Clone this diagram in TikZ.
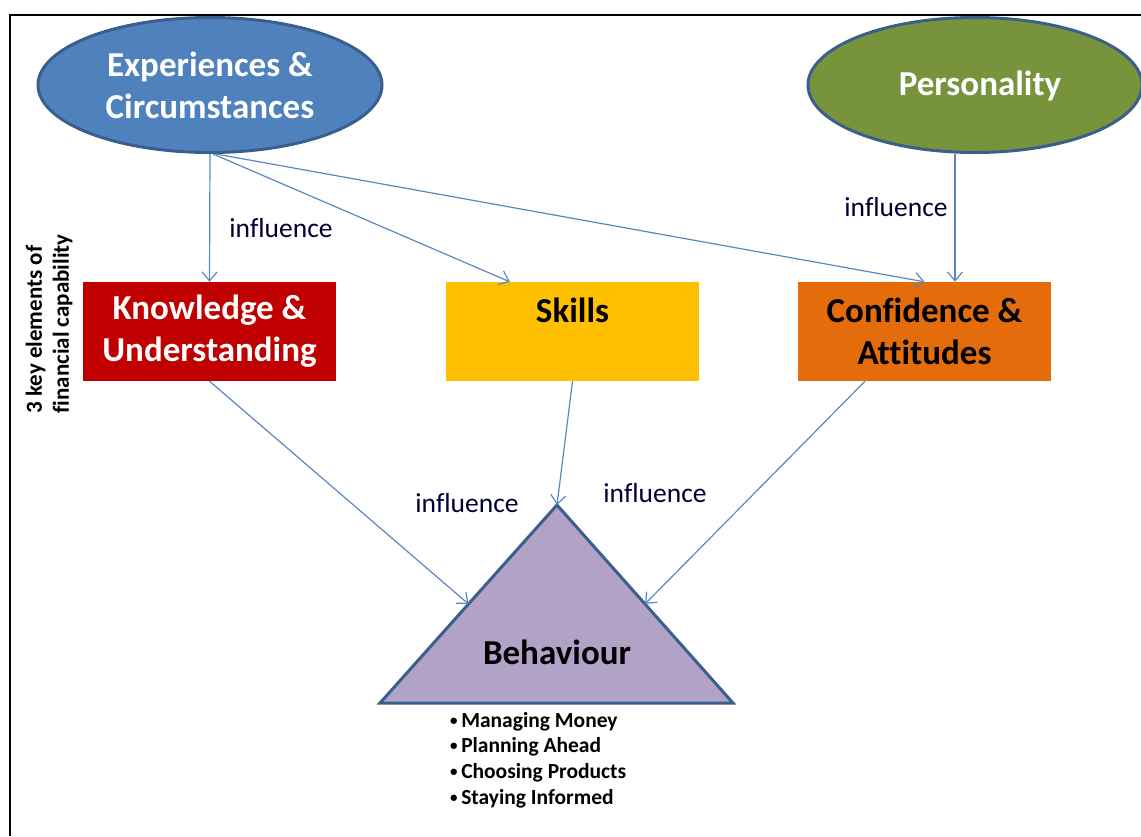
\documentclass[tikz,border=0pt]{standalone}
\usepackage{fontspec}
\setmainfont{Carlito}[Ligatures=NoCommon]
\usetikzlibrary{shapes.geometric,arrows.meta,calc}
\definecolor{ecblue}{HTML}{4F81BD}
\definecolor{edgeblue}{HTML}{3A5F8C}
\definecolor{persgreen}{HTML}{77933C}
\definecolor{kured}{HTML}{C00000}
\definecolor{skyellow}{HTML}{FFC000}
\definecolor{caorange}{HTML}{E46C0A}
\definecolor{behlilac}{HTML}{B3A2C7}
\definecolor{arrowblue}{HTML}{5B87C0}
\newcommand{\smallbullet}{\raisebox{2pt}{\fontsize{15}{15}\selectfont•}\,}
\begin{document}
\begin{tikzpicture}[x=1pt,y=-1pt,
  oval/.style={ellipse, draw=edgeblue, line width=3pt, inner sep=0pt,
    minimum height=135pt, text=white,
    font=\fontsize{35}{42}\selectfont\bfseries, align=center},
  elem/.style={rectangle, minimum width=253pt, minimum height=99pt, inner sep=0pt,
    font=\fontsize{35}{42}\selectfont\bfseries, align=center},
  infl/.style={draw=arrowblue, line width=1.2pt, -{Straight Barb[length=9pt,width=15pt]}},
  word/.style={font=\fontsize{27.5}{32}\selectfont, text=black!80!blue, inner sep=0pt},
]
\useasboundingbox (0,0) rectangle (1141,836);

% outer frame
\draw[line width=2pt] (10,836) -- (10,15) -- (1141,15);

% sources
\node[oval, fill=ecblue, minimum width=344pt] (exp) at (210,85) {Experiences \&\\Circumstances};
\node[oval, fill=persgreen, minimum width=334pt] (pers) at (975,85) {};
\node[text=white, font=\fontsize{35}{42}\selectfont\bfseries, inner sep=0pt] (perst) at (980,86) {Personality};

% three elements
\node[elem, fill=kured, text=white] (know) at (209.5,331.5) {Knowledge \&\\Understanding};
\node[elem, fill=skyellow, text=black] (skill) at (572.5,331.5) {Skills\\\mbox{}};
\node[elem, fill=caorange, text=black] (conf) at (924.5,331.5) {Confidence \&\\Attitudes};

% side caption
\node[rotate=90, align=left, inner sep=0pt, font=\fontsize{23}{27}\selectfont\bfseries]
  (cap) at (49,324) {3 key elements of\\financial capability};

% behaviour triangle
\coordinate (tA) at (557,505);
\coordinate (tL) at (380,703);
\coordinate (tR) at (733,703);
\draw[fill=behlilac, draw=edgeblue, line width=3pt, line join=miter] (tA) -- (tL) -- (tR) -- cycle;
\node[font=\fontsize{35}{40}\selectfont\bfseries, inner sep=0pt] (beh) at (557,652) {Behaviour};

\node[anchor=north west, align=left, inner sep=0pt,
  font=\fontsize{21.5}{25.7}\selectfont\bfseries] (list) at (450,712)
  {\smallbullet Managing Money\\\smallbullet Planning Ahead\\\smallbullet Choosing Products\\\smallbullet Staying Informed};

% influence arrows
\draw[infl] (exp.south) -- (know.north);
\draw[infl] ([xshift=3pt]exp.south) -- ([xshift=64pt]skill.north west);
\draw[infl] ([xshift=6pt]exp.south) -- (conf.north);
\draw[infl] ([xshift=-20pt]pers.south) -- ([xshift=30.5pt]conf.north);
\draw[infl] (know.south) -- ($(tA)!0.5!(tL)$);
\draw[infl] (skill.south) -- (tA);
\draw[infl] ([xshift=-59.5pt]conf.south) -- ($(tA)!0.5!(tR)$);

% arrow labels
\node[word] (w1) at (281,228) {influence};
\node[word] (w2) at (896,207) {influence};
\node[word] (w3) at (467,503) {influence};
\node[word] (w4) at (655,493) {influence};
\end{tikzpicture}
\end{document}
